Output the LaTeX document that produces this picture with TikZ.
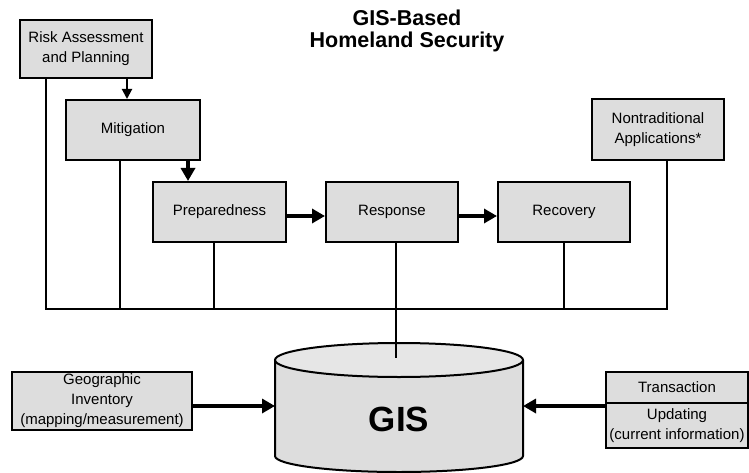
\documentclass[tikz,border=0pt]{standalone}
\usepackage{fontspec}
\setmainfont{Liberation Sans}
\usetikzlibrary{arrows.meta}
\definecolor{boxgray}{HTML}{DDDDDD}
\definecolor{topgray}{HTML}{E6E6E6}
\tikzset{
  box/.style={draw=black, line width=2pt, fill=boxgray, align=center, inner sep=0pt,
    font=\fontsize{15}{20}\selectfont},
  link/.style={line width=2pt},
  thinarrow/.style={line width=2pt, -{Triangle[length=10pt,width=10pt]}},
  thickarrow/.style={line width=4.5pt, -{Triangle[length=13pt,width=14pt]}},
}
\begin{document}
\begin{tikzpicture}[x=1pt,y=-1pt]
\useasboundingbox (0,0) rectangle (749,473);
% title
\node[align=center, font=\fontsize{21.5}{21.5}\selectfont\bfseries] (title) at (407,31) {GIS-Based\\Homeland Security};
% boxes
\node[box, minimum width=132, minimum height=58] (risk) at (86,49) {Risk Assessment\\and Planning};
\node[box, minimum width=134, minimum height=60] (mit) at (133,130) {Mitigation};
\node[box, minimum width=133, minimum height=60] (prep) at (219.5,212) {Preparedness};
\node[box, minimum width=132, minimum height=60] (resp) at (392,212) {Response};
\node[box, minimum width=132, minimum height=60] (rec) at (564,212) {Recovery};
\node[box, minimum width=132, minimum height=61] (non) at (658,129.5) {Nontraditional\\Applications*};
\node[box, minimum width=180, minimum height=58] (geo) at (102,401) {Geographic\\Inventory\\(mapping/measurement)};
\node[box, minimum width=142, minimum height=31] (trans) at (677,387.5) {Transaction};
\node[box, minimum width=142, minimum height=45] (upd) at (677,425.5) {Updating\\(current information)};
% bus
\coordinate (busL) at (46,309);
\coordinate (busR) at (667,309);
\coordinate (gistop) at (396,358);
\coordinate (gisL) at (275,406);
\coordinate (gisR) at (523,406);
\draw[link] (risk.south -| busL) -- (busL) -- (busR) -- (non.south -| busR);
\draw[link] ([xshift=-13pt]mit.south) -- ([xshift=-13pt]mit.south |- busL);
\draw[link] ([xshift=-5.5pt]prep.south) -- ([xshift=-5.5pt]prep.south |- busL);
\draw[link] (rec.south) -- (rec.south |- busL);
% GIS cylinder
\filldraw[fill=boxgray, line width=2pt] (275,360) -- (275,456)
  arc[start angle=180, end angle=360, x radius=124pt, y radius=16pt] -- (523,360);
\filldraw[fill=topgray, line width=2pt] (399,360) ellipse[x radius=124pt, y radius=17pt];
\node[font=\fontsize{35}{38}\selectfont\bfseries] (gis) at (399,419) {GIS};
\draw[link] ([xshift=4pt]resp.south) -- (gistop);
% arrows
\draw[thinarrow] ([xshift=41pt]risk.south) -- ([xshift=41pt]risk.south |- mit.north);
\draw[thickarrow] ([xshift=55pt]mit.south) -- ([xshift=55pt]mit.south |- prep.north);
\draw[thickarrow] ([yshift=-4pt]prep.east) -- ([yshift=-4pt]resp.west);
\draw[thickarrow] ([yshift=-4pt]resp.east) -- ([yshift=-4pt]rec.west);
\draw[thickarrow] (geo.east |- gisL) -- (gisL);
\draw[thickarrow] (upd.west |- gisR) -- (gisR);
\end{tikzpicture}
\end{document}
